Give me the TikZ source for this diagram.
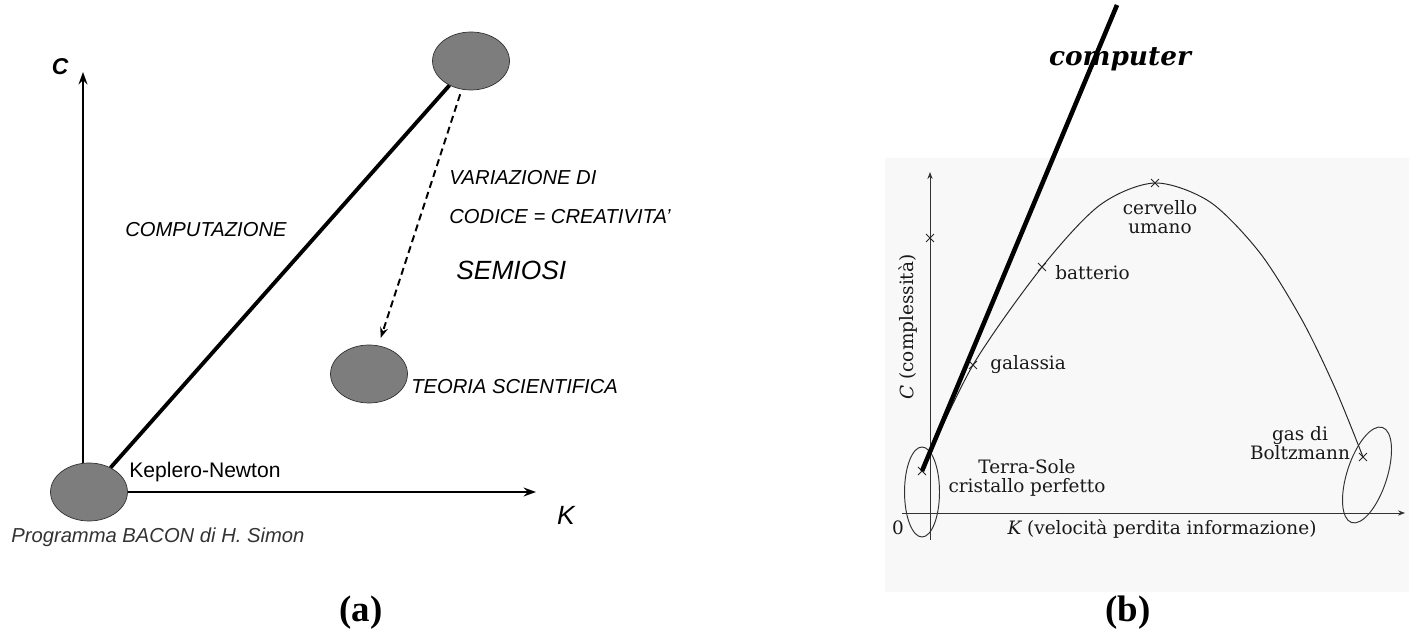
\documentclass[tikz,border=0pt]{standalone}
\usepackage{fontspec}
\setmainfont{Liberation Serif}
\newfontfamily\arialfont{Liberation Sans}
\newfontfamily\slabfont{DejaVu Serif}
\usepackage{tikz}
\usetikzlibrary{shapes,arrows,arrows.meta,positioning,calc}

\definecolor{blobgray}{RGB}{125,125,125}
\definecolor{scangray}{RGB}{248,248,248}

\begin{document}
\begin{tikzpicture}[
  x=0.02cm, y=-0.02cm,
  blob/.style={ellipse, draw=black!80, thin, fill=blobgray, minimum width=1.54cm, minimum height=1.16cm, inner sep=0pt},
  lab/.style={font=\arialfont\itshape\fontsize{11.5}{13}\selectfont, inner sep=0pt, anchor=west},
  axisarrow/.style={-{Stealth[length=7pt,width=5pt]}, line width=1.6pt},
  comp/.style={line width=2.2pt},
  semio/.style={-{Stealth[length=6pt,width=4.5pt]}, line width=1.1pt, dash pattern=on 4pt off 2.5pt},
  faxis/.style={-{Stealth[length=4pt,width=3pt]}, line width=0.55pt, draw=black!80},
  ring/.style={ellipse, draw=black!80, line width=0.55pt, inner sep=0pt},
  xmark/.style={cross out, draw=black!85, line width=0.55pt, minimum size=0.14cm, inner sep=0pt},
  note/.style={font=\slabfont\fontsize{10.5}{10.5}\selectfont, inner sep=0pt, align=center, text=black!90},
  caption/.style={font=\bfseries\fontsize{21}{21}\selectfont}
]
\useasboundingbox (0,0) rectangle (1409,634);

% Panel (a)
\node[blob] (bacon) at (89,492) {};
\node[blob] (code) at (471,61) {};
\node[blob] (theory) at (369,374) {};
\coordinate (ctip) at (83,72);
\coordinate (ktip) at (536,495);

\draw[axisarrow] (bacon.north -| ctip) -- (ctip);
\draw[axisarrow] (bacon.east) -- (bacon.east -| ktip);
\draw[comp] (bacon) -- (code);
\draw[semio, shorten >=0.16cm, shorten <=0.1cm] (code) -- (theory);

\node[font=\arialfont\bfseries\itshape\fontsize{13}{13}\selectfont] (clab) at (60,67) {C};
\node[font=\arialfont\itshape\fontsize{15}{15}\selectfont] (klab) at (566,515) {K};
\node[lab] (comptxt) at (125,230) {COMPUTAZIONE};
\node[lab] (vartxt) at (449,178) {VARIAZIONE DI};
\node[lab] (codtxt) at (449,217) {CODICE = CREATIVITA’};
\node[lab, font=\arialfont\itshape\fontsize{15}{15}\selectfont] (semtxt) at (456,270) {SEMIOSI};
\node[lab] (teotxt) at (411,387) {TEORIA SCIENTIFICA};
\node[lab, font=\arialfont\fontsize{12}{13}\selectfont] (keptxt) at (129,472) {Keplero-Newton};
\node[lab, text=black!80] (bactxt) at (11,537) {Programma BACON di H. Simon};
\node[caption] (capa) at (361,613) {(a)};

% Panel (b)
\fill[scangray] (885,158) rectangle (1409,592);
\coordinate (terra) at (922,471);
\coordinate (gal) at (973,365);
\coordinate (bat) at (1042,267);
\coordinate (brain) at (1155,183);
\coordinate (gas) at (1363,457);
\coordinate (ctick) at (930,238);
\coordinate (compend) at (1117,5);
\coordinate (cbot) at (930,540);
\coordinate (ctipb) at (930,172);
\coordinate (kbot) at (902,513);
\coordinate (ktipb) at (1405,513);

\draw[faxis] (cbot) -- (ctipb);
\draw[faxis] (kbot) -- (ktipb);
\draw[line width=0.55pt, black!85] plot[smooth, tension=0.5] coordinates {(terra) (gal) (bat) (1100,205) (brain) (1210,202) (1260,253) (1302,320) (1335,388) (gas)};

\node[ring, minimum width=0.7cm, minimum height=1.8cm] (terraring) at (922,492) {};
\node[ring, minimum width=0.8cm, minimum height=2cm, rotate=-18] (gasring) at (1367,475) {};

\foreach \p in {terra,gal,bat,brain,gas,ctick}
  \node[xmark] at (\p) {};

\draw[line width=2.6pt] (terra) -- (compend);
\node[font=\slabfont\bfseries\itshape\fontsize{15}{15}\selectfont] (comptitle) at (1120,59) {computer};

\node[note, rotate=90] (ctext) at (908,327) {{\itshape C} (complessità)};
\node[note] (ktext) at (1162,529) {{\itshape K} (velocità perdita informazione)};
\node[note] (zero) at (898,528) {0};
\node[note] (brainlab) at (1160,217) {cervello\\umano};
\node[note, anchor=west] (batlab) at (1055,273) {batterio};
\node[note, anchor=west] (gallab) at (990,365) {galassia};
\node[note] (terralab) at (1027,478) {Terra-Sole\\cristallo perfetto};
\node[note] (gaslab) at (1300,443) {gas di\\Boltzmann};
\node[caption] (capb) at (1128,613) {(b)};

\end{tikzpicture}
\end{document}
